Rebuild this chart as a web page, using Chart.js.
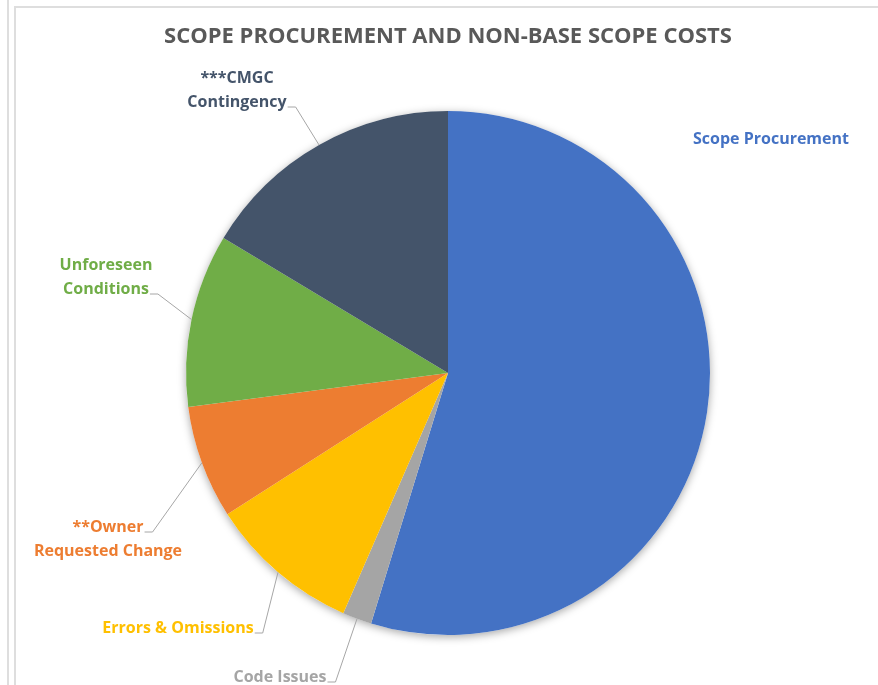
<!DOCTYPE html>
<html>
<head>
<meta charset="utf-8">
<script src="https://cdn.jsdelivr.net/npm/chart.js@4.4.0/dist/chart.umd.min.js"></script>
<style>
  html, body { margin: 0; padding: 0; background: #fff; }
  #wrap { position: relative; width: 878px; height: 685px; overflow: hidden; }
  #edge { position: absolute; left: 7px; top: 0; width: 0; height: 685px; border-left: 2px solid #dedede; }
  #box { position: absolute; left: 14px; top: 6px; width: 900px; height: 700px; border-left: 2px solid #dedede; border-top: 2px solid #dedede; }
  canvas { position: absolute; left: 0; top: 0; }
</style>
</head>
<body>
<div id="wrap">
  <div id="edge"></div>
  <div id="box"></div>
  <canvas id="chart" width="878" height="685"></canvas>
</div>
<script>
// label text, one entry per line
const categories = [
    ['Scope Procurement'],
    ['Code Issues'],
    ['Errors & Omissions'],
    ['**Owner', 'Requested Change'],
    ['Unforeseen', 'Conditions'],
    ['***CMGC', 'Contingency']
];
// share of total cost, %
const shares = [54.8, 1.8, 9.4, 7.0, 10.7, 16.4];
const colors = ['#4472C4', '#A5A5A5', '#FFC000', '#ED7D31', '#70AD47', '#44546A'];

// where each label block sits, offset from pie centre (px), and whether it gets a leader line
const labelSpots = [
    { dx: 323, dy: -234, leader: false },
    { dx: -168, dy: 304, leader: true },
    { dx: -270, dy: 255, leader: true },
    { dx: -340, dy: 166, leader: true },
    { dx: -342, dy: -96, leader: true },
    { dx: -211, dy: -283, leader: true }
];

const calloutPlugin = {
    id: 'callouts',
    beforeDatasetsDraw(chart) {
        // soft shadow behind the whole pie
        const ctx = chart.ctx;
        const a = chart.getDatasetMeta(0).data[0];
        ctx.save();
        ctx.shadowColor = 'rgba(0,0,0,0.35)';
        ctx.shadowBlur = 9;
        ctx.shadowOffsetY = 2;
        ctx.fillStyle = '#fff';
        ctx.beginPath();
        ctx.arc(a.x, a.y, a.outerRadius, 0, Math.PI * 2);
        ctx.fill();
        ctx.restore();
    },
    afterDatasetsDraw(chart) {
        const ctx = chart.ctx;
        const arcs = chart.getDatasetMeta(0).data;
        const lineH = 24;
        ctx.save();
        ctx.font = 'bold 16px "Open Sans"';
        ctx.textAlign = 'center';
        ctx.textBaseline = 'middle';
        arcs.forEach((arc, i) => {
            const spot = labelSpots[i];
            const lines = categories[i];
            const cx = arc.x + spot.dx;
            const cy = arc.y + spot.dy;
            const mid = (arc.startAngle + arc.endAngle) / 2;
            const ex = arc.x + Math.cos(mid) * arc.outerRadius;
            const ey = arc.y + Math.sin(mid) * arc.outerRadius;
            ctx.fillStyle = colors[i];
            lines.forEach((t, j) => {
                ctx.fillText(t, cx, cy + (j - (lines.length - 1) / 2) * lineH);
            });
            if (!spot.leader) return;
            const j = ey < cy ? 0 : lines.length - 1;
            const ly = cy + (j - (lines.length - 1) / 2) * lineH + 5;
            const lx = cx + ctx.measureText(lines[j]).width / 2 + 1;
            ctx.strokeStyle = '#A6A6A6';
            ctx.lineWidth = 1;
            ctx.beginPath();
            ctx.moveTo(lx, ly);
            ctx.lineTo(lx + 8, ly);
            ctx.lineTo(ex, ey);
            ctx.stroke();
        });
        ctx.restore();
    }
};

new Chart(document.getElementById('chart'), {
    type: 'pie',
    data: {
        labels: categories.map(l => l.join(' ')),
        datasets: [{
            data: shares,
            backgroundColor: colors,
            borderWidth: 0
        }]
    },
    options: {
        responsive: false,
        animation: false,
        layout: { padding: { left: 20, right: 2, top: 0, bottom: 50 } },
        plugins: {
            legend: { display: false },
            tooltip: { enabled: false },
            title: {
                display: true,
                text: 'SCOPE PROCUREMENT AND NON-BASE SCOPE COSTS',
                color: '#595959',
                font: { family: 'Open Sans', size: 22, weight: 'bold' },
                padding: { top: 23.8, bottom: 60.8 }
            }
        }
    },
    plugins: [calloutPlugin]
});
</script>
</body>
</html>
